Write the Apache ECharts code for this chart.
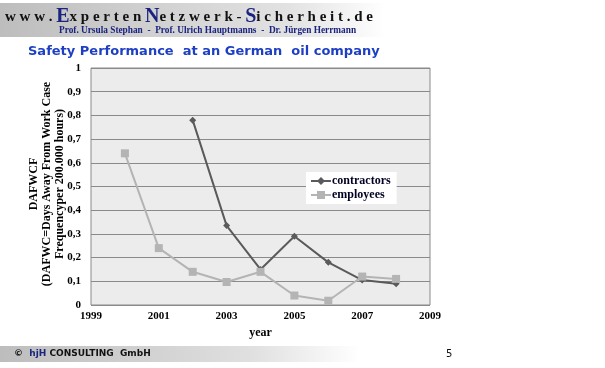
<!DOCTYPE html>
<html><head><meta charset="utf-8">
<script src="https://cdn.jsdelivr.net/npm/echarts@6/dist/echarts.min.js"></script>
<style>html,body{margin:0;padding:0;background:#fff}#c{width:605px;height:368px}</style>
</head><body><div id="c"></div>
<script>
var years = [2000, 2001, 2002, 2003, 2004, 2005, 2006, 2007, 2008];
var contractors = [null, null, 0.78, 0.335, 0.15, 0.29, 0.18, 0.105, 0.09];
var employees = [0.64, 0.24, 0.14, 0.097, 0.14, 0.04, 0.018, 0.12, 0.11];
var xTicks = [1999, 2001, 2003, 2005, 2007, 2009];

function pairs(v){ var o=[]; for (var i=0;i<years.length;i++){ if(v[i]!==null) o.push([years[i], v[i]]); } return o; }

var chart = echarts.init(document.getElementById('c'), null, {renderer:'canvas'});
var serif = '"Liberation Serif", "DejaVu Serif", serif';
chart.setOption({
  animation:false,
  backgroundColor:'#fff',
  grid:{left:91, top:68, right:175, bottom:63, show:true, backgroundColor:'#ececec', borderColor:'#8a8a8a', borderWidth:1},
  xAxis:{type:'value', min:xTicks[0], max:xTicks[xTicks.length-1], interval:2,
    axisLine:{show:false}, axisTick:{show:false}, splitLine:{show:false},
    axisLabel:{color:'#000', fontFamily:serif, fontWeight:'bold', fontSize:11, margin:6,
      formatter:function(v){ return String(Math.round(v)); }},
    name:'year', nameLocation:'middle', nameGap:22,
    nameTextStyle:{color:'#000', fontFamily:serif, fontWeight:'bold', fontSize:12}},
  yAxis:{type:'value', min:0, max:1, interval:0.1,
    axisLine:{show:false}, axisTick:{show:false},
    splitLine:{show:true, lineStyle:{color:'#8a8a8a', width:1}},
    axisLabel:{color:'#000', fontFamily:serif, fontWeight:'bold', fontSize:11, margin:10,
      formatter:function(v){ return (Math.round(v*10)/10).toString().replace('.', ','); }}},
  legend:{left:306, top:172, orient:'vertical', itemGap:2, itemWidth:20, itemHeight:10,
    backgroundColor:'#fff', padding:[3,6,3,4],
    textStyle:{color:'#000022', fontFamily:serif, fontWeight:'bold', fontSize:12, padding:[0,0,0,-4]},
    data:['contractors','employees']},
  series:[
    {name:'contractors', type:'line', data:pairs(contractors), symbol:'diamond', symbolSize:7,
      lineStyle:{color:'#5a5a5a', width:2}, itemStyle:{color:'#5a5a5a'}},
    {name:'employees', type:'line', data:pairs(employees), symbol:'rect', symbolSize:8,
      lineStyle:{color:'#b4b4b4', width:2}, itemStyle:{color:'#b4b4b4'}}
  ],
  graphic:[
    {type:'rect', shape:{x:0,y:3,width:385,height:34}, silent:true, z:-1,
      style:{fill:new echarts.graphic.LinearGradient(0,0,1,0,[{offset:0,color:'#bdbdbd'},{offset:0.75,color:'#e2e2e2'},{offset:1,color:'#ffffff'}])}},
    {type:'text', left:5, top:7, style:{rich:{
        a:{fontFamily:serif, fontSize:15, fontWeight:'bold', fill:'#111'},
        b:{fontFamily:serif, fontSize:20, fontWeight:'bold', fill:'#1a237e'}},
      text:'{a|w w w . }{b|E}{a|x p e r t e n }{b|N}{a|e t z w e r k - }{b|S}{a|i c h e r h e i t . d e}'}},
    {type:'text', left:59, top:26, style:{text:'Prof. Ursula Stephan  -  Prof. Ulrich Hauptmanns  -  Dr. Jürgen Herrmann',
      fontFamily:serif, fontSize:9.3, fontWeight:'bold', fill:'#1a237e'}},
    {type:'text', left:28, top:45, style:{text:'Safety Performance  at an German  oil company',
      fontFamily:'"DejaVu Sans", Verdana, sans-serif', fontSize:13, fontWeight:'bold', fill:'#1d3fc4'}},
    {type:'text', x:47, y:184, rotation:Math.PI/2, style:{
      text:'DAFWCF\n(DAFWC=Days Away From Work Case\nFrequencyper 200.000 hours)',
      fontFamily:serif, fontSize:12, fontWeight:'bold', fill:'#000', align:'center', verticalAlign:'middle', lineHeight:13}},
    {type:'rect', shape:{x:0,y:346,width:360,height:16}, silent:true, z:-1,
      style:{fill:new echarts.graphic.LinearGradient(0,0,1,0,[{offset:0,color:'#bdbdbd'},{offset:0.7,color:'#e0e0e0'},{offset:1,color:'#ffffff'}])}},
    {type:'text', left:14, top:349, style:{rich:{
        a:{fontFamily:'"DejaVu Sans", sans-serif', fontSize:9, fontWeight:'bold', fill:'#111'},
        b:{fontFamily:'"DejaVu Sans", sans-serif', fontSize:9, fontWeight:'bold', fill:'#1a237e'}},
      text:'{a|©  }{b|hjH }{a|CONSULTING  GmbH}'}},
    {type:'text', left:446, top:349, style:{text:'5', fontFamily:'"DejaVu Sans", sans-serif', fontSize:10, fill:'#111'}}
  ]
});
</script></body></html>
